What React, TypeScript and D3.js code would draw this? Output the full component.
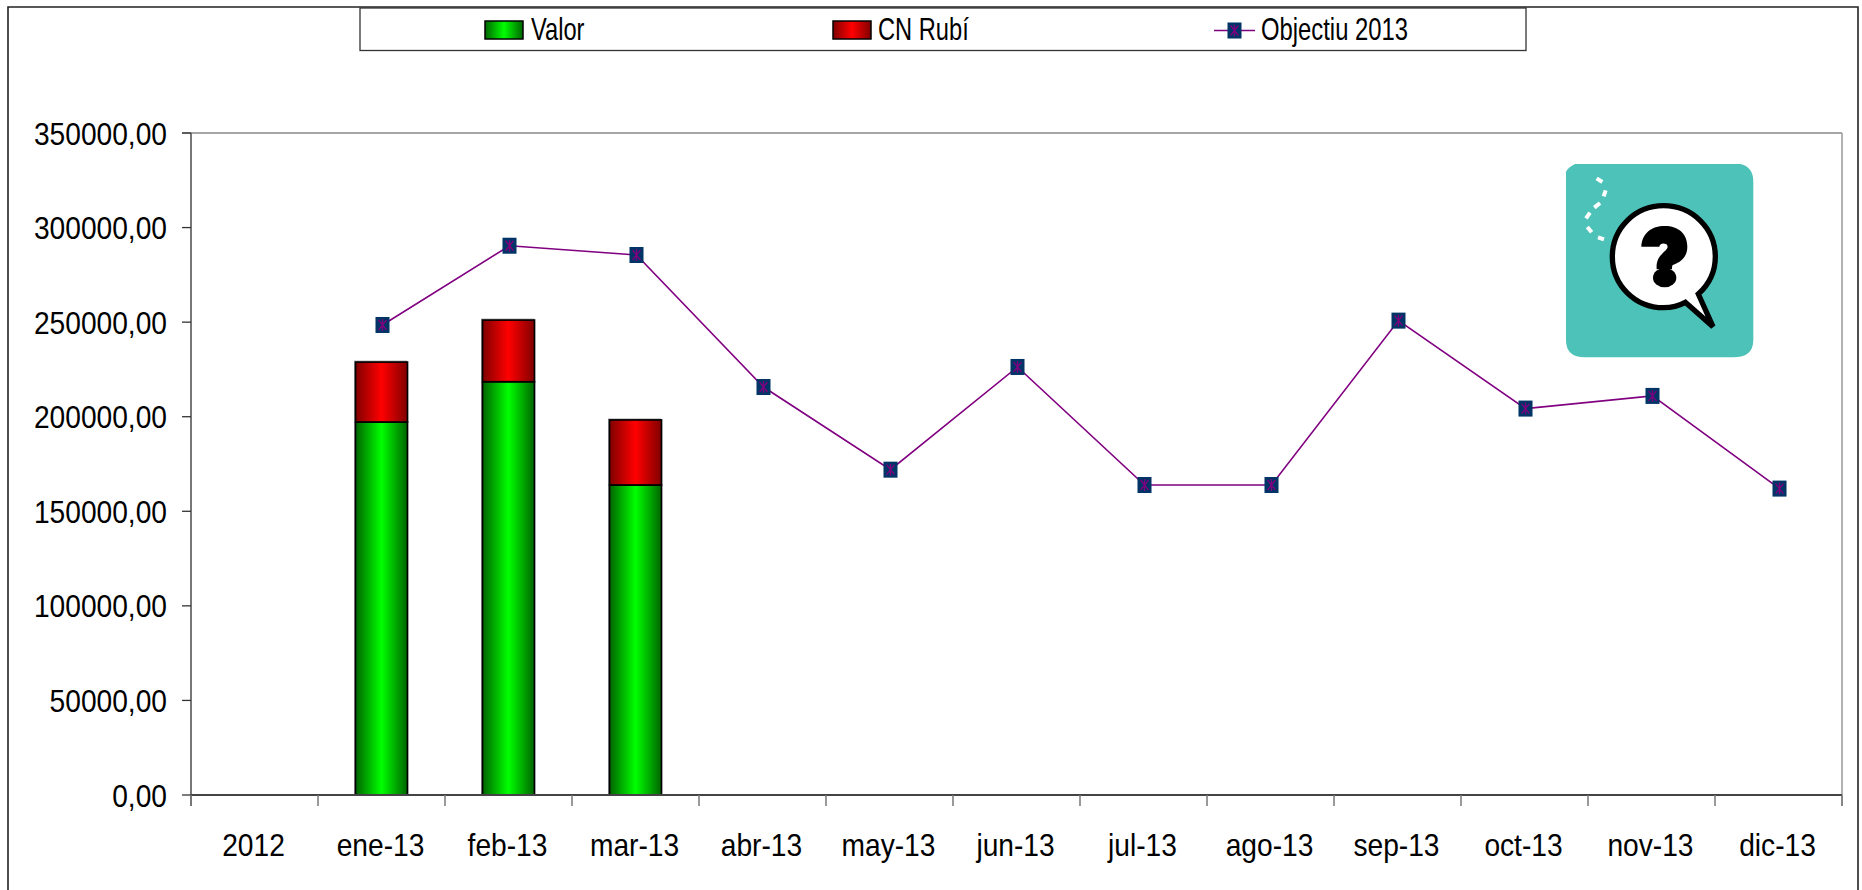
import React from "react";
import * as d3 from "d3";

const categories = ["2012", "ene-13", "feb-13", "mar-13", "abr-13", "may-13", "jun-13", "jul-13", "ago-13", "sep-13", "oct-13", "nov-13", "dic-13"];
const valor = [0, 197200, 218500, 163900, 0, 0, 0, 0, 0, 0, 0, 0, 0];
const cnRubi = [0, 31700, 32600, 34400, 0, 0, 0, 0, 0, 0, 0, 0, 0];
const objectiu: (number | null)[] = [null, 248500, 290400, 285500, 215700, 172000, 226300, 163900, 163900, 250800, 204300, 211000, 162000];
const yTicks = [0, 50000, 100000, 150000, 200000, 250000, 300000, 350000];
const legendLabels = ["Valor", "CN Rubí", "Objectiu 2013"];

const FONT = "'Liberation Sans', Arial, sans-serif";
const L = 191, R = 1842, T = 133, B = 795;

const x = d3.scaleBand<string>().domain(categories).range([L, R]).paddingInner(75 / 127).paddingOuter(37.5 / 127);
const y = d3.scaleLinear().domain([0, 350000]).range([B, T]);

const rows = categories.map((c, i) => ({ c, valor: valor[i], cnRubi: cnRubi[i] }));
const stacked = d3.stack<any>().keys(["valor", "cnRubi"])(rows);
const fills = ["url(#gGreen)", "url(#gRed)"];

const cx = (c: string) => (x(c) as number) + x.bandwidth() / 2;
const linePts = categories.map((c, i) => ({ c, v: objectiu[i] })).filter((d) => d.v !== null) as { c: string; v: number }[];
const lineGen = d3.line<{ c: string; v: number }>().x((d) => cx(d.c) + 1).y((d) => y(d.v));

const fmt = (v: number) => d3.format(".2f")(v).replace(".", ",");
const tickEdges = [...categories.map((c) => (x(c) as number) - x.step() * x.paddingInner() / 2), R];

function Marker({ px, py }: { px: number; py: number }) {
  return (
    <g transform={`translate(${px},${py})`}>
      <rect x={-7} y={-8} width={14} height={16} fill="#003366" />
      <path d="M-4,-5L4,5M4,-5L-4,5M0,-6V6" stroke="#800080" strokeWidth={1.3} fill="none" />
    </g>
  );
}

function LabelText({ px, py, sx, anchor, children }: any) {
  return (
    <text transform={`translate(${px},${py}) scale(${sx},1)`} textAnchor={anchor} fontFamily={FONT} fontSize={32} fill="#000">
      {children}
    </text>
  );
}

export default function App() {
  return (
    <svg width={1862} height={890} style={{ position: "fixed", left: 0, top: 0, display: "block", background: "#fff" }}>
      <defs>
        <linearGradient id="gGreen" x1="0" x2="1" y1="0" y2="0">
          <stop offset="0" stopColor="#006400" />
          <stop offset="0.5" stopColor="#00ff00" />
          <stop offset="1" stopColor="#006400" />
        </linearGradient>
        <linearGradient id="gRed" x1="0" x2="1" y1="0" y2="0">
          <stop offset="0" stopColor="#800000" />
          <stop offset="0.5" stopColor="#ff0000" />
          <stop offset="1" stopColor="#800000" />
        </linearGradient>
      </defs>

      {/* outer frame */}
      <path d="M8,890V7H1858V890" fill="none" stroke="#222" strokeWidth={1.6} />

      {/* legend */}
      <rect x={360} y={8} width={1166} height={42.5} fill="#fff" stroke="#333" strokeWidth={1.3} />
      <rect x={485} y={21} width={38} height={18} fill="url(#gGreen)" stroke="#000" strokeWidth={1.5} />
      <LabelText px={531} py={40} sx={0.74}>{legendLabels[0]}</LabelText>
      <rect x={833} y={21} width={38} height={18} fill="url(#gRed)" stroke="#000" strokeWidth={1.5} />
      <LabelText px={878} py={40} sx={0.74}>{legendLabels[1]}</LabelText>
      <line x1={1214} x2={1255} y1={30.5} y2={30.5} stroke="#800080" strokeWidth={1.6} />
      <Marker px={1234.5} py={30.5} />
      <LabelText px={1261} py={40} sx={0.745}>{legendLabels[2]}</LabelText>

      {/* plot frame */}
      <line x1={182} x2={R} y1={T} y2={T} stroke="#888" strokeWidth={1.5} />
      <line x1={R} x2={R} y1={T} y2={806} stroke="#999" strokeWidth={1.5} />

      {/* bars */}
      {stacked.map((s, si) =>
        s.map((d, i) =>
          d[1] > d[0] ? (
            <g key={`${si}-${i}`}>
              <rect
                x={(x(categories[i]) as number) - 1}
                y={y(d[1]) - 1}
                width={x.bandwidth()}
                height={y(d[0]) - y(d[1])}
                fill="none"
                stroke="#aaa"
                strokeWidth={1}
              />
              <rect
                x={x(categories[i])}
                y={y(d[1])}
                width={x.bandwidth()}
                height={y(d[0]) - y(d[1])}
                fill={fills[si]}
                stroke="#000"
                strokeWidth={1.7}
              />
            </g>
          ) : null
        )
      )}

      {/* axes */}
      <line x1={L} x2={L} y1={T} y2={806} stroke="#555" strokeWidth={1.6} />
      <line x1={L} x2={R} y1={B} y2={B} stroke="#444" strokeWidth={1.8} />
      {yTicks.map((t) => (
        <g key={t}>
          <line x1={182} x2={L} y1={y(t)} y2={y(t)} stroke="#333" strokeWidth={1.3} />
          <LabelText px={167} py={y(t) + 11.5} sx={0.88} anchor="end">{fmt(t)}</LabelText>
        </g>
      ))}
      {tickEdges.map((e, i) => (
        <line key={i} x1={e} x2={e} y1={B} y2={806} stroke="#777" strokeWidth={1.5} />
      ))}
      {categories.map((c) => (
        <LabelText key={c} px={cx(c) - 1} py={856} sx={0.88} anchor="middle">{c}</LabelText>
      ))}

      {/* line */}
      <path d={lineGen(linePts) as string} fill="none" stroke="#800080" strokeWidth={1.6} />
      {linePts.map((d) => (
        <Marker key={d.c} px={cx(d.c) + 1} py={y(d.v)} />
      ))}

      {/* icon */}
      <g transform="translate(1540,150) scale(0.3333)">
        <path d="M105,42H600Q640,50 640,95V570Q640,622 580,622H135Q78,622 78,570V65Q85,52 105,42Z" fill="#4DC2B8" />
        <path
          d="M371,167C285,167 217,235 217,320C217,405 285,473 371,473C393,473 416,468 436,457L519,530L475,432C507,403 526,365 526,320C526,235 457,167 371,167Z"
          fill="#fff"
          stroke="#000"
          strokeWidth={16}
          strokeLinejoin="miter"
        />
        <path
          d="M304,290C306,250 335,228 374,228C416,228 442,252 442,290C442,328 412,340 398,345C396,350 396,352 396,358H350C348,328 360,318 372,305C384,296 386,288 378,282C368,278 360,282 358,290Z"
          fill="#000"
        />
        <ellipse cx={374} cy={383} rx={35} ry={29} fill="#000" />
        <path d="M170,85L187,96M197,121L191,139M180,159L163,173M150,188L138,205M142,231L155,247M174,262L192,268" stroke="#fff" strokeWidth={12} fill="none" />
      </g>
    </svg>
  );
}
